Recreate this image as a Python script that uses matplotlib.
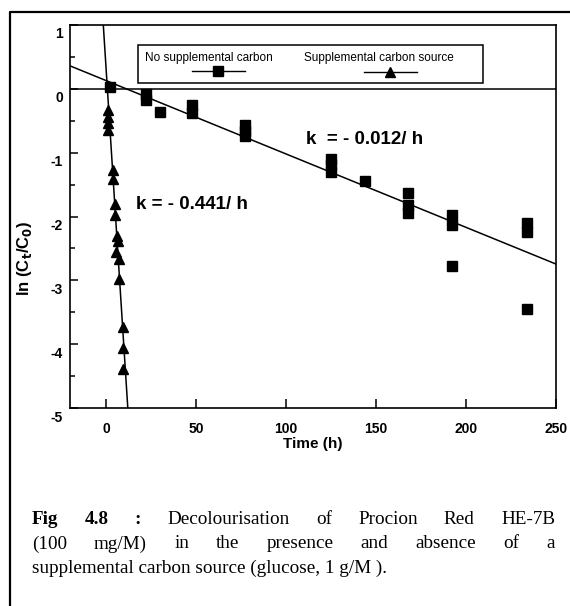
import matplotlib
matplotlib.use("Agg")
import matplotlib.pyplot as plt
import matplotlib.transforms as mtransforms
from matplotlib.lines import Line2D
from matplotlib.patches import Rectangle
import numpy as np

plt.rcParams['font.family'] = ['Liberation Sans', 'DejaVu Sans']
plt.rcParams['mathtext.default'] = 'bf'
plt.rcParams['axes.unicode_minus'] = False

# no supplemental carbon (squares)
t_no = [2, 22, 22, 30, 48, 48, 77, 77, 77, 125, 125, 125, 144, 168, 168, 168,
        192, 192, 192, 234, 234, 234]
y_no = [0.03, -0.08, -0.17, -0.36, -0.25, -0.38, -0.57, -0.66, -0.74, -1.1, -1.2, -1.3,
        -1.45, -1.63, -1.82, -1.94, -1.97, -2.13, -2.78, -2.1, -2.25, -3.45]

# supplemental carbon source (triangles)
t_sup = [1.1, 1.1, 1.1, 1.1, 3.9, 3.9, 5, 5, 6, 6.6, 5.6, 7, 7.2, 9.5, 9.5, 9.5]
y_sup = [-0.33, -0.44, -0.53, -0.64, -1.27, -1.42, -1.8, -1.97, -2.31, -2.39, -2.55,
         -2.67, -2.98, -3.73, -4.06, -4.39]

# fitted lines: (intercept, slope)
fit_no = (0.13, -0.0115)
fit_sup = (0.34, -0.441)

W, H = 570, 606
fig = plt.figure(figsize=(W / 100, H / 100), dpi=100)
ax = fig.add_axes([70 / W, 1 - 408 / H, 486 / W, 383 / H])

xx = np.linspace(-20, 250, 600)
ax.plot(xx, fit_no[0] + fit_no[1] * xx, color='black', lw=1.1)
ax.plot(xx, fit_sup[0] + fit_sup[1] * xx, color='black', lw=1.1)
ax.axhline(0, color='black', lw=1.1)

ax.plot(t_no, y_no, 's', color='black', ms=6.5, ls='none')
ax.plot(t_sup, y_sup, '^', color='black', ms=7, ls='none')

ax.set_xlim(-20, 250)
ax.set_ylim(-5, 1)
ax.set_xticks([0, 50, 100, 150, 200, 250])
ax.set_yticks([-5, -4, -3, -2, -1, 0, 1])
ax.set_yticks(np.arange(-4.5, 1, 1), minor=True)
ax.tick_params(axis='x', direction='in', length=6.5, width=1.1, pad=10, labelsize=10)
ax.tick_params(axis='y', direction='in', length=6, width=1.1, pad=5, labelsize=10)
ax.tick_params(axis='y', which='minor', direction='in', length=3.5, width=1.1)
for lab in ax.get_xticklabels() + ax.get_yticklabels():
    lab.set_fontweight('bold')
off = mtransforms.ScaledTranslation(0, -8 / 100, fig.dpi_scale_trans)
for lab in ax.get_yticklabels():
    lab.set_transform(lab.get_transform() + off)
for s in ax.spines.values():
    s.set_linewidth(1.2)

ax.set_xlabel('Time (h)', fontsize=11, fontweight='bold', labelpad=1)
ax.set_ylabel(r'ln (C$_t$/C$_0$)', fontsize=12, fontweight='bold')
ax.yaxis.set_label_coords(-0.075, 0.39)

ax.text(111, -0.8, 'k  = - 0.012/ h', fontsize=13.5, fontweight='bold', va='center')
ax.text(16.7, -1.81, 'k = - 0.441/ h', fontsize=13.5, fontweight='bold', va='center')

# legend box drawn by hand (text above sample line)
ax.add_patch(Rectangle((0.14, 0.849), 0.71, 0.099, transform=ax.transAxes,
                       fill=False, lw=1.1, ec='black', zorder=5))
ax.text(0.286, 0.914, 'No supplemental carbon', transform=ax.transAxes,
        ha='center', va='center', fontsize=8.5)
ax.add_line(Line2D([0.251, 0.36], [0.879, 0.879], transform=ax.transAxes,
                   color='black', lw=1))
ax.add_line(Line2D([0.305], [0.879], transform=ax.transAxes, marker='s',
                   color='black', ms=6.5))
ax.text(0.636, 0.914, 'Supplemental carbon source', transform=ax.transAxes,
        ha='center', va='center', fontsize=8.5)
ax.add_line(Line2D([0.605, 0.714], [0.877, 0.877], transform=ax.transAxes,
                   color='black', lw=1))
ax.add_line(Line2D([0.658], [0.877], transform=ax.transAxes, marker='^',
                   color='black', ms=7))

# outer frame (left and top edges visible)
fig.add_artist(Line2D([10 / W, 10 / W, 1.01], [-0.01, 1 - 12 / H, 1 - 12 / H],
                      transform=fig.transFigure, color='black', lw=1.6))

# caption, justified
cap_lines = [
    [('Fig', 'bold'), ('4.8', 'bold'), (':', 'bold'), ('Decolourisation', 'normal'),
     ('of', 'normal'), ('Procion', 'normal'), ('Red', 'normal'), ('HE-7B', 'normal')],
    [(w, 'normal') for w in '(100 mg/M) in the presence and absence of a'.split()],
]
last_line = 'supplemental carbon source (glucose, 1 g/M ).'
cap_y = [520, 544, 568]
x0, x1 = 32, 555
cap_fs = 13.8
renderer = fig.canvas.get_renderer()
for words, yp in zip(cap_lines, cap_y[:2]):
    texts = [fig.text(0, 1 - yp / H, w, fontsize=cap_fs, fontweight=fw,
                      family='Liberation Serif', va='center') for w, fw in words]
    widths = [t.get_window_extent(renderer).width for t in texts]
    gap = (x1 - x0 - sum(widths)) / (len(texts) - 1)
    xp = x0
    for t, wd in zip(texts, widths):
        t.set_x(xp / W)
        xp += wd + gap
fig.text(x0 / W, 1 - cap_y[2] / H, last_line, fontsize=cap_fs,
         family='Liberation Serif', va='center')

fig.savefig('out.png', dpi=100)
